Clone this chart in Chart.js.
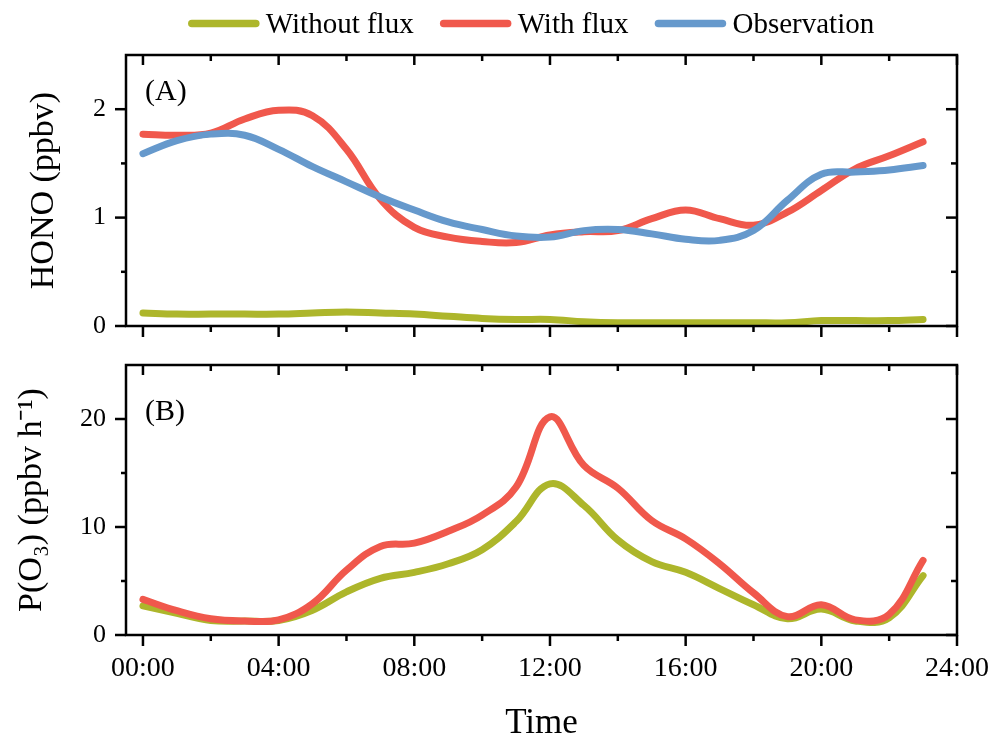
<!DOCTYPE html>
<html>
<head>
<meta charset="utf-8">
<script src="https://cdn.jsdelivr.net/npm/chart.js@4.4.1/dist/chart.umd.min.js"></script>
<style>
  html, body { margin: 0; padding: 0; background: #fff; overflow: hidden; }
  #wrap { position: relative; width: 993px; height: 734px; }
  canvas { position: absolute; left: 0; }
  #chartA { top: 0; }
  #chartB { top: 345px; }
</style>
</head>
<body>
<div id="wrap">
  <canvas id="chartA" width="993" height="345"></canvas>
  <canvas id="chartB" width="993" height="396"></canvas>
</div>
<script>
// hour of day
const hours = [0, 1, 2, 3, 4, 5, 6, 7, 8, 9, 10, 11, 12, 13, 14, 15, 16, 17, 18, 19, 20, 21, 22, 23];

// (A) HONO, ppbv
const honoWithout = [0.12, 0.11, 0.11, 0.11, 0.11, 0.12, 0.13, 0.12, 0.11, 0.09, 0.07, 0.06,
                     0.06, 0.04, 0.03, 0.03, 0.03, 0.03, 0.03, 0.03, 0.05, 0.05, 0.05, 0.06];
const honoWith = [1.77, 1.76, 1.78, 1.91, 1.99, 1.94, 1.63, 1.17, 0.91, 0.82, 0.78, 0.77,
                  0.84, 0.87, 0.88, 0.99, 1.07, 0.99, 0.93, 1.05, 1.25, 1.45, 1.57, 1.70];
const honoObs = [1.59, 1.71, 1.77, 1.76, 1.63, 1.47, 1.33, 1.19, 1.07, 0.96, 0.89, 0.83,
                 0.82, 0.88, 0.89, 0.85, 0.80, 0.79, 0.88, 1.16, 1.40, 1.42, 1.44, 1.48];

// (B) P(O3), ppbv h-1
const po3Without = [2.7, 2.0, 1.35, 1.3, 1.35, 2.3, 4.0, 5.25, 5.8, 6.6, 7.9, 10.5,
                    14.0, 12.0, 8.8, 6.8, 5.8, 4.3, 2.8, 1.5, 2.4, 1.3, 1.6, 5.5];
const po3With = [3.3, 2.25, 1.5, 1.3, 1.4, 2.9, 6.0, 8.2, 8.5, 9.6, 11.1, 13.7,
                 20.2, 15.7, 13.6, 10.6, 8.9, 6.6, 3.9, 1.7, 2.8, 1.4, 1.9, 6.9];

// ticks
const xTicks = [0, 4, 8, 12, 16, 20, 24];
const xTickLabels = ['00:00', '04:00', '08:00', '12:00', '16:00', '20:00', '24:00'];
const xMinor = [2, 6, 10, 14, 18, 22];
const yTicksA = [0, 1, 2];
const yMinorA = [0.5, 1.5];
const yTicksB = [0, 10, 20];
const yMinorB = [5, 15];

const serif = '"Liberation Serif", "Times New Roman", serif';
const cOlive = '#adb62b';
const cRed = '#f0584c';
const cBlue = '#6699cc';

Chart.defaults.color = '#000';
Chart.defaults.font.family = serif;

function pts(arr) {
    return hours.map((h, i) => ({x: h, y: arr[i]}));
}

function line(label, arr, color, order) {
    return {
        label: label,
        data: pts(arr),
        borderColor: color,
        backgroundColor: color,
        borderWidth: 7,
        borderCapStyle: 'round',
        borderJoinStyle: 'round',
        pointRadius: 0,
        tension: 0.4,
        order: order
    };
}

// frame, tick marks, panel tag and (optionally) legend
function makeFrame(yMajor, yMinor, tag, tagDy, withLegend) {
    return {
        id: 'frame' + tag,
        afterDraw(chart) {
            const {ctx, chartArea: a, scales: {x, y}} = chart;
            ctx.save();
            ctx.strokeStyle = '#000';
            ctx.lineWidth = 2.5;
            ctx.lineCap = 'butt';
            ctx.strokeRect(a.left, a.top, a.right - a.left, a.bottom - a.top);
            const seg = (x1, y1, x2, y2) => {
                ctx.beginPath(); ctx.moveTo(x1, y1); ctx.lineTo(x2, y2); ctx.stroke();
            };
            xTicks.forEach(v => {
                const px = x.getPixelForValue(v);
                seg(px, a.bottom, px, a.bottom + 11);
                seg(px, a.top, px, a.top + 10);
            });
            xMinor.forEach(v => {
                const px = x.getPixelForValue(v);
                seg(px, a.bottom, px, a.bottom + 6);
                seg(px, a.top, px, a.top + 6);
            });
            yMajor.forEach(v => {
                const py = y.getPixelForValue(v);
                seg(a.left - 11, py, a.left, py);
                seg(a.right - 11, py, a.right, py);
            });
            yMinor.forEach(v => {
                const py = y.getPixelForValue(v);
                seg(a.left - 5, py, a.left, py);
                seg(a.right - 6, py, a.right, py);
            });

            ctx.fillStyle = '#000';
            ctx.font = '30px ' + serif;
            ctx.textAlign = 'left';
            ctx.textBaseline = 'alphabetic';
            ctx.fillText(tag, a.left + 19, a.top + tagDy);

            if (withLegend) {
                ctx.font = '29px ' + serif;
                const sw = 64, gapT = 10, gapI = 30;
                const items = chart.data.datasets;
                let total = 0;
                items.forEach((d, i) => {
                    total += sw + gapT + ctx.measureText(d.label).width + (i < items.length - 1 ? gapI : 0);
                });
                let cx = 533 - total / 2;
                const ly = 23.5;
                items.forEach(d => {
                    ctx.strokeStyle = d.borderColor;
                    ctx.lineWidth = 7.5;
                    ctx.lineCap = 'round';
                    seg(cx, ly, cx + sw, ly);
                    cx += sw + gapT;
                    ctx.fillStyle = '#000';
                    ctx.fillText(d.label, cx, 33);
                    cx += ctx.measureText(d.label).width + gapI;
                });
            }
            ctx.restore();
        }
    };
}

function noPad(s) {
    s.paddingTop = 0; s.paddingBottom = 0; s.paddingLeft = 0; s.paddingRight = 0;
}

function xScale(showLabels, height) {
    return {
        type: 'linear',
        position: 'bottom',
        min: -0.5,
        max: 24,
        afterBuildTicks: s => { s.ticks = xTicks.map(v => ({value: v})); },
        grid: {display: false, drawTicks: false},
        border: {display: false},
        ticks: {
            display: showLabels,
            autoSkip: false,
            maxRotation: 0,
            padding: 17,
            font: {size: 28, family: serif},
            callback: (v, i) => xTickLabels[i]
        },
        title: {
            display: showLabels,
            text: 'Time',
            font: {size: 35, family: serif, lineHeight: 1},
            padding: {top: 0, bottom: 0}
        },
        afterFit: s => { noPad(s); s.height = height; }
    };
}

function yScale(max, ticks, title, titlePad) {
    return {
        min: 0,
        max: max,
        afterBuildTicks: s => { s.ticks = ticks.map(v => ({value: v})); },
        grid: {display: false, drawTicks: false},
        border: {display: false},
        ticks: {padding: 20, font: {size: 26, family: serif}},
        title: {
            display: true,
            text: title,
            font: {size: 34, family: serif},
            padding: {top: titlePad, bottom: 0}
        },
        afterFit: s => { noPad(s); s.width = 126; }
    };
}

new Chart(document.getElementById('chartA'), {
    type: 'line',
    data: {
        datasets: [
            line('Without flux', honoWithout, cOlive, 3),
            line('With flux', honoWith, cRed, 2),
            line('Observation', honoObs, cBlue, 1)
        ]
    },
    options: {
        responsive: false,
        animation: false,
        layout: {padding: {top: 55, right: 36, bottom: 0, left: 0}},
        plugins: {legend: {display: false}, tooltip: {enabled: false}},
        scales: {
            x: xScale(false, 19),
            y: yScale(2.5, yTicksA, 'HONO (ppbv)', 24)
        }
    },
    plugins: [makeFrame(yTicksA, yMinorA, '(A)', 45, true)]
});

new Chart(document.getElementById('chartB'), {
    type: 'line',
    data: {
        datasets: [
            line('Without flux', po3Without, cOlive, 2),
            line('With flux', po3With, cRed, 1)
        ]
    },
    options: {
        responsive: false,
        animation: false,
        layout: {padding: {top: 20, right: 36, bottom: 0, left: 0}},
        plugins: {legend: {display: false}, tooltip: {enabled: false}},
        scales: {
            x: xScale(true, 106),
            y: yScale(25, yTicksB, 'P(O\u2083) (ppbv h\u207B\u00B9)', 12)
        }
    },
    plugins: [makeFrame(yTicksB, yMinorB, '(B)', 55, false)]
});
</script>
</body>
</html>
